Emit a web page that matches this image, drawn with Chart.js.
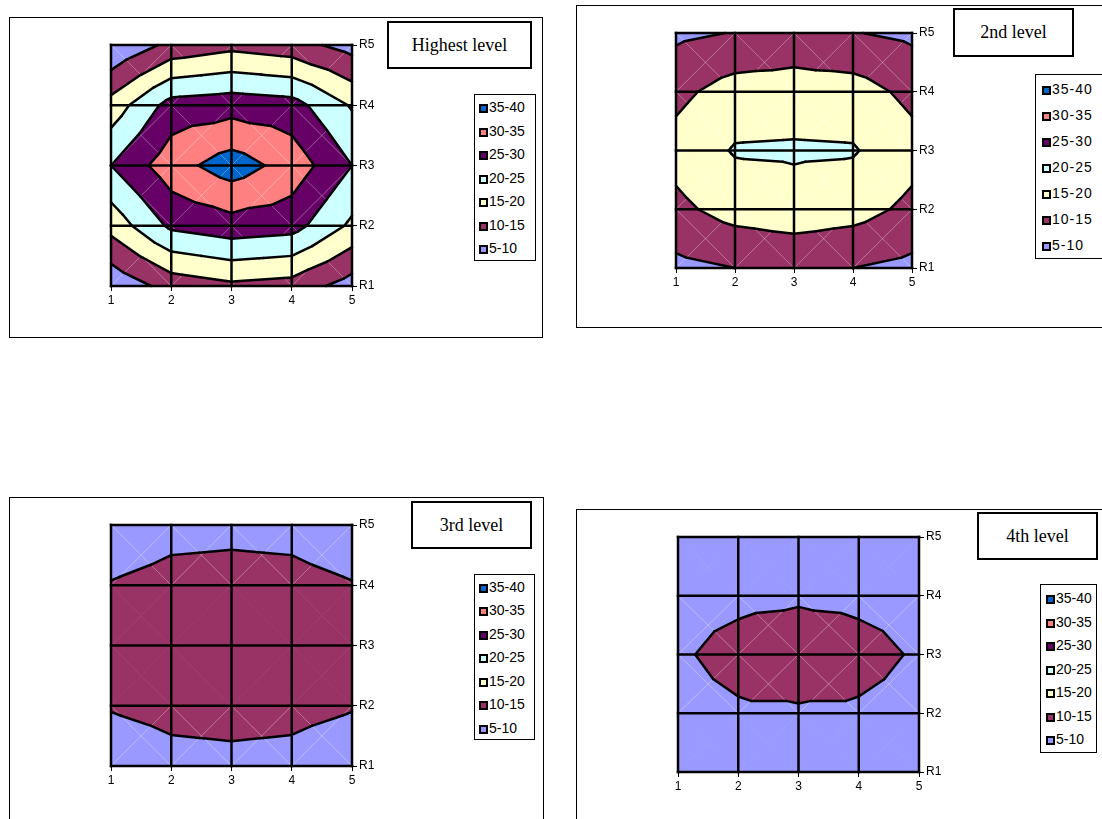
<!DOCTYPE html>
<html>
<head>
<meta charset="utf-8">
<title>Contour levels</title>
<script src="https://cdn.jsdelivr.net/npm/chart.js"></script>
<style>
    body {
        margin: 0;
        width: 1102px;
        height: 819px;
        position: relative;
        overflow: hidden;
        background: #fff;
        font-family: "Liberation Sans", Arial, sans-serif;
    }
    .panel { position: absolute; border: 1px solid #000; box-sizing: border-box; background: #fff; }
    .plot { position: absolute; }
    .title {
        position: absolute;
        border: 2px solid #000;
        box-sizing: border-box;
        font-family: "Liberation Serif", "Times New Roman", serif;
        font-size: 18px;
        display: flex;
        align-items: center;
        justify-content: center;
        background: #fff;
    }
    .legend { position: absolute; border: 1px solid #000; box-sizing: border-box; background: #fff; font-size: 14px; }
    .legend div { position: absolute; height: 16px; line-height: 16px; white-space: nowrap; }
    .legend span {
        display: inline-block;
        box-sizing: border-box;
        width: 9px;
        height: 9px;
        border: 2px solid #000;
        margin-right: 1px;
        vertical-align: -1px;
    }
</style>
</head>
<body>

<script>
    // grid values, rows R1..R5 (bottom to top), columns 1..5
    const columns = [1, 2, 3, 4, 5];
    const rowLabels = ['R1', 'R2', 'R3', 'R4', 'R5'];

    const highestLevel = [
        [6, 12, 14, 13, 7.7],
        [16.8, 26, 28, 27, 19],
        [25, 33, 37.5, 33, 25],
        [17, 27, 28, 27, 19.5],
        [5, 11.4, 13.5, 12, 8]
    ];
    const secondLevel = [
        [8.7, 10, 10.7, 10, 8.7],
        [13.8, 17, 18.1, 17, 13.8],
        [16.8, 20.4, 20.6, 20.4, 16.8],
        [13.7, 17.2, 17.5, 17.2, 13.7],
        [9, 10.2, 11.5, 10.2, 9]
    ];
    const thirdLevel = [
        [6.5, 8.3, 8.6, 8.3, 6.5],
        [10.4, 11.6, 12, 11.6, 10.4],
        [12, 13, 13.5, 13, 12],
        [10.3, 11.7, 12, 11.7, 10.3],
        [6.5, 8.3, 8.6, 8.3, 6.5]
    ];
    const fourthLevel = [
        [7, 7.5, 8, 7.5, 7],
        [8.5, 9.4, 9.4, 9.4, 8.5],
        [9.4, 11.5, 13, 11.5, 9.5],
        [8.5, 9, 9.3, 9, 8.5],
        [7, 7.5, 8, 7.5, 7]
    ];

    const bandEdges = [5, 10, 15, 20, 25, 30, 35, 40];
    const bandLabels = ['5-10', '10-15', '15-20', '20-25', '25-30', '30-35', '35-40'];
    const bandColors = ['#9999FF', '#993366', '#FFFFCC', '#CCFFFF', '#660066', '#FF8080', '#0066CC'];

    const panels = [
        { title: 'Highest level', values: highestLevel,
          box: [9, 17, 534, 321], plot: [111, 45, 241, 241],
          titleBox: [387, 21, 145, 48], legend: [474, 94, 62, 167, 12, 23.5, 5, 0] },
        { title: '2nd level', values: secondLevel,
          box: [576, 5, 540, 323], plot: [676, 33, 236, 235],
          titleBox: [953, 8, 121, 49], legend: [1035, 74, 72, 185, 13.7, 26, 7, 1] },
        { title: '3rd level', values: thirdLevel,
          box: [9, 497, 535, 340], plot: [111, 525, 241, 241],
          titleBox: [411, 501, 121, 48], legend: [474, 574, 61, 166, 11.7, 23.5, 5, 0] },
        { title: '4th level', values: fourthLevel,
          box: [576, 509, 540, 330], plot: [678, 537, 241, 235],
          titleBox: [977, 512, 121, 48], legend: [1040, 584, 57, 169, 13, 23.5, 6, 0] }
    ];

    function bandOf(v) {
        return Math.max(0, Math.min(bandColors.length - 1, Math.floor((v - bandEdges[0]) / 5)));
    }

    // keep the part of a polygon above (or below) a level, interpolating v linearly
    function clip(poly, level, above) {
        const out = [];
        for (let i = 0; i < poly.length; i++) {
            const a = poly[i], b = poly[(i + 1) % poly.length];
            const ina = above ? a.v >= level : a.v <= level;
            const inb = above ? b.v >= level : b.v <= level;
            if (ina) out.push(a);
            if (ina !== inb) {
                const t = (level - a.v) / (b.v - a.v);
                out.push({ x: a.x + t * (b.x - a.x), y: a.y + t * (b.y - a.y), v: level });
            }
        }
        return out;
    }

    const contourPlugin = {
        id: 'contour',
        beforeDatasetsDraw(chart) {
            const ctx = chart.ctx;
            const xs = chart.scales.x, ys = chart.scales.y;
            const pts = chart.data.datasets[0].data;
            const g = {};
            pts.forEach(p => { g[p.x + ',' + p.y] = p; });

            const px = p => [xs.getPixelForValue(p.x), ys.getPixelForValue(p.y)];
            const path = poly => {
                ctx.beginPath();
                poly.forEach((p, i) => {
                    const q = px(p);
                    if (i === 0) ctx.moveTo(q[0], q[1]); else ctx.lineTo(q[0], q[1]);
                });
                ctx.closePath();
            };

            const tris = [];
            const mixedCells = [];
            for (let r = 1; r < 5; r++) {
                for (let c = 1; c < 5; c++) {
                    const bl = g[c + ',' + r], br = g[(c + 1) + ',' + r];
                    const tr = g[(c + 1) + ',' + (r + 1)], tl = g[c + ',' + (r + 1)];
                    const ce = { x: c + 0.5, y: r + 0.5, v: (bl.v + br.v + tr.v + tl.v) / 4 };
                    tris.push([bl, br, ce], [br, tr, ce], [tr, tl, ce], [tl, bl, ce]);
                    const bands = [bl, br, tr, tl, ce].map(p => bandOf(p.v));
                    if (bands.some(b => b !== bands[0])) mixedCells.push([bl, br, tr, tl]);
                }
            }

            ctx.save();
            // filled bands
            tris.forEach(tri => {
                bandColors.forEach((col, k) => {
                    const lo = k === 0 ? -Infinity : bandEdges[k];
                    const hi = k === bandColors.length - 1 ? Infinity : bandEdges[k + 1];
                    const poly = clip(clip(tri, lo, true), hi, false);
                    if (poly.length < 3) return;
                    path(poly);
                    ctx.fillStyle = col;
                    ctx.strokeStyle = col;
                    ctx.lineWidth = 0.8;
                    ctx.fill();
                    ctx.stroke();
                });
            });

            // faint triangle diagonals
            ctx.strokeStyle = 'rgba(255,255,255,0.3)';
            ctx.lineWidth = 1;
            mixedCells.forEach(([bl, br, tr, tl]) => {
                ctx.beginPath();
                let a = px(bl), b = px(tr);
                ctx.moveTo(a[0], a[1]); ctx.lineTo(b[0], b[1]);
                a = px(br); b = px(tl);
                ctx.moveTo(a[0], a[1]); ctx.lineTo(b[0], b[1]);
                ctx.stroke();
            });

            // contour lines
            ctx.strokeStyle = '#000';
            ctx.lineWidth = 2.5;
            ctx.lineCap = 'round';
            bandEdges.slice(1, -1).forEach(L => {
                tris.forEach(tri => {
                    const hits = [];
                    for (let i = 0; i < 3; i++) {
                        const a = tri[i], b = tri[(i + 1) % 3];
                        if ((a.v > L) !== (b.v > L)) {
                            const t = (L - a.v) / (b.v - a.v);
                            hits.push({ x: a.x + t * (b.x - a.x), y: a.y + t * (b.y - a.y) });
                        }
                    }
                    if (hits.length === 2) {
                        const a = px(hits[0]), b = px(hits[1]);
                        ctx.beginPath();
                        ctx.moveTo(a[0], a[1]);
                        ctx.lineTo(b[0], b[1]);
                        ctx.stroke();
                    }
                });
            });

            // grid
            ctx.lineWidth = 2.5;
            ctx.lineCap = 'square';
            columns.forEach(v => {
                const x = xs.getPixelForValue(v);
                ctx.beginPath();
                ctx.moveTo(x, ys.getPixelForValue(1));
                ctx.lineTo(x, ys.getPixelForValue(5));
                ctx.stroke();
            });
            rowLabels.forEach((lab, i) => {
                const y = ys.getPixelForValue(i + 1);
                ctx.beginPath();
                ctx.moveTo(xs.getPixelForValue(1), y);
                ctx.lineTo(xs.getPixelForValue(5), y);
                ctx.stroke();
            });
            ctx.restore();
        }
    };

    function addDiv(cls, rect, text) {
        const d = document.createElement('div');
        d.className = cls;
        d.style.left = rect[0] + 'px';
        d.style.top = rect[1] + 'px';
        d.style.width = rect[2] + 'px';
        d.style.height = rect[3] + 'px';
        if (text) d.textContent = text;
        document.body.appendChild(d);
        return d;
    }

    panels.forEach(p => {
        addDiv('panel', p.box);

        const pad = 10, axisW = 40, axisH = 25;
        const wrap = addDiv('plot', [p.plot[0] - pad, p.plot[1] - pad, p.plot[2] + pad + axisW, p.plot[3] + pad + axisH]);
        const canvas = document.createElement('canvas');
        canvas.width = p.plot[2] + pad + axisW;
        canvas.height = p.plot[3] + pad + axisH;
        wrap.appendChild(canvas);

        const points = [];
        p.values.forEach((row, r) => row.forEach((v, c) => points.push({ x: columns[c], y: r + 1, v: v })));

        new Chart(canvas, {
            type: 'scatter',
            data: { datasets: [{ label: p.title, data: points, pointRadius: 0 }] },
            options: {
                responsive: false,
                animation: false,
                layout: { padding: { left: pad, top: pad, right: 0, bottom: 0 } },
                plugins: { legend: { display: false }, tooltip: { enabled: false } },
                scales: {
                    x: {
                        type: 'linear', min: 1, max: 5, position: 'bottom',
                        ticks: { stepSize: 1, color: '#000', padding: 2, font: { family: 'Liberation Sans', size: 12 } },
                        grid: { drawOnChartArea: false, tickLength: 5, color: '#000' },
                        border: { display: false },
                        afterFit: s => { s.height = axisH; }
                    },
                    y: {
                        type: 'linear', min: 1, max: 5, position: 'right',
                        ticks: {
                            stepSize: 1, color: '#000', padding: 2,
                            font: { family: 'Liberation Sans', size: 12 },
                            callback: v => rowLabels[v - 1]
                        },
                        grid: { drawOnChartArea: false, tickLength: 5, color: '#000' },
                        border: { display: false },
                        afterFit: s => { s.width = axisW; }
                    }
                }
            },
            plugins: [contourPlugin]
        });

        addDiv('title', p.titleBox, p.title);

        const L = p.legend;
        const leg = addDiv('legend', [L[0], L[1], L[2], L[3]]);
        if (L[7]) leg.style.letterSpacing = L[7] + 'px';
        bandLabels.slice().reverse().forEach((lab, i) => {
            const k = bandLabels.length - 1 - i;
            const item = document.createElement('div');
            item.style.left = (L[6] - 1) + 'px';
            item.style.top = (L[4] + i * L[5] - 8) + 'px';
            const sq = document.createElement('span');
            sq.style.background = bandColors[k];
            item.appendChild(sq);
            item.appendChild(document.createTextNode(lab));
            leg.appendChild(item);
        });
    });
</script>
</body>
</html>
